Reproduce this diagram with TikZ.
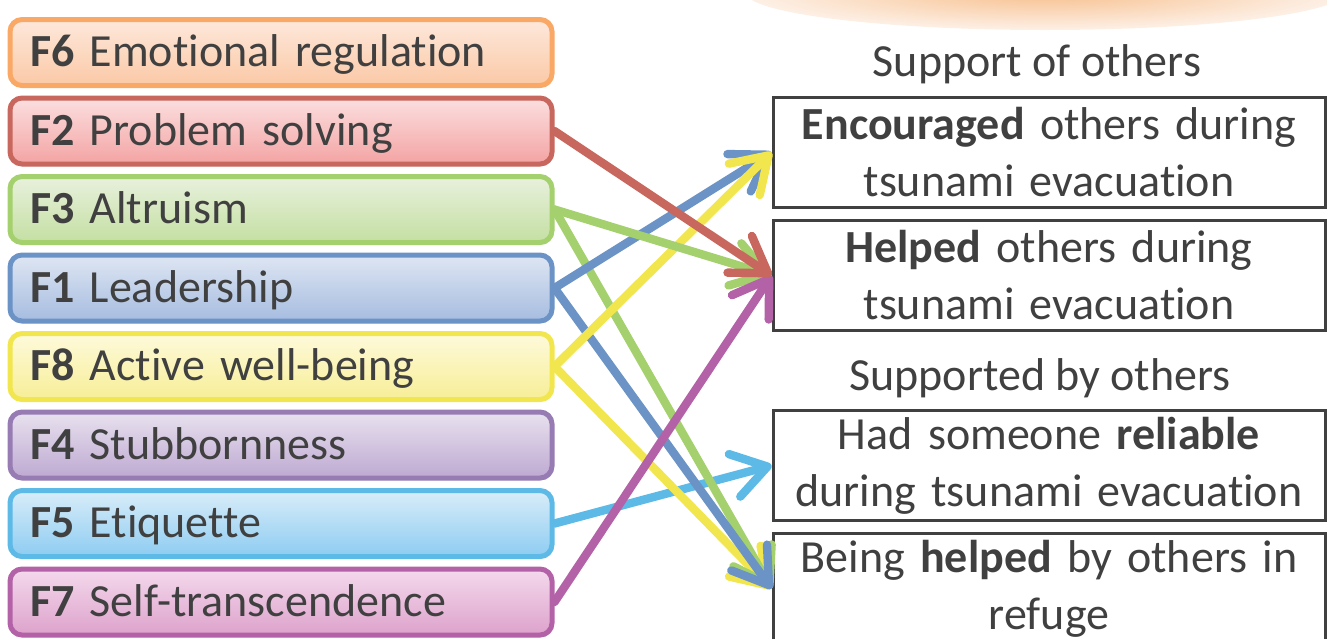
\documentclass[tikz,border=0pt]{standalone}
\usepackage{fontspec}
\setmainfont{Carlito}[Ligatures={NoCommon,NoContextual}]
\usepackage{tikz}
\usetikzlibrary{arrows.meta,positioning,shadows}
\definecolor{ink}{HTML}{404040}
\definecolor{f6line}{HTML}{F9A865}
\definecolor{f6top}{HTML}{FDE8DB}
\definecolor{f6bot}{HTML}{FBC9A6}
\definecolor{f2line}{HTML}{C8675E}
\definecolor{f2top}{HTML}{FBDFDF}
\definecolor{f2bot}{HTML}{F4A3A3}
\definecolor{f3line}{HTML}{A4D06D}
\definecolor{f3top}{HTML}{E8F1DD}
\definecolor{f3bot}{HTML}{C4DFA2}
\definecolor{f1line}{HTML}{6B93C6}
\definecolor{f1top}{HTML}{DEE6F3}
\definecolor{f1bot}{HTML}{A6BCE0}
\definecolor{f8line}{HTML}{F2E64E}
\definecolor{f8top}{HTML}{FEFADB}
\definecolor{f8bot}{HTML}{F7EE96}
\definecolor{f4line}{HTML}{977CB4}
\definecolor{f4top}{HTML}{E8E1EE}
\definecolor{f4bot}{HTML}{BEA9D2}
\definecolor{f5line}{HTML}{5DB9E6}
\definecolor{f5top}{HTML}{D9EDF9}
\definecolor{f5bot}{HTML}{8DCCF1}
\definecolor{f7line}{HTML}{B462A7}
\definecolor{f7top}{HTML}{F4D9EC}
\definecolor{f7bot}{HTML}{DDA2CC}
\definecolor{glowin}{HTML}{F7BF8C}
\definecolor{glowout}{HTML}{FDF0E6}

\begin{document}
\begin{tikzpicture}[
  x=0.5pt,y=-0.5pt,
  font=\fontsize{23}{28.5}\selectfont,text=ink,
  fac/.style={draw=#1line,top color=#1top,bottom color=#1bot,line width=2.5pt,rounded corners=6pt,
    text width=251pt,inner xsep=10pt,inner ysep=0pt,minimum height=33pt,align=left,
    text height=17pt,text depth=3pt,
    drop shadow={opacity=0.18,shadow xshift=0.6pt,shadow yshift=-1.2pt}},
  res/.style={draw=ink,line width=1.5pt,fill=white,text width=272pt,inner xsep=2pt,inner ysep=0pt,
    minimum height=55pt,align=center},
  grp/.style={inner sep=0pt},
  link/.style={#1line,line width=4.2pt,line cap=round,-{Straight Barb[length=17pt,width=22pt,round]}}]
\useasboundingbox (0,0) rectangle (1327,638);
\clip (0,0) rectangle (1327,638);
% orange heading blob, only its lower rim is in view
\shade[inner color=glowin,outer color=glowout] (1045,-8) ellipse [x radius=300,y radius=38];
% resilience factors
\node[fac=f6] (f6) at (281,52.5) {\textbf{F6} Emotional regulation};
\node[fac=f2,below=3.75pt of f6] (f2) {\textbf{F2} Problem solving};
\node[fac=f3,below=3.75pt of f2] (f3) {\textbf{F3} Altruism};
\node[fac=f1,below=3.75pt of f3] (f1) {\textbf{F1} Leadership};
\node[fac=f8,below=3.75pt of f1] (f8) {\textbf{F8} Active well-being};
\node[fac=f4,below=3.75pt of f8] (f4) {\textbf{F4} Stubbornness};
\node[fac=f5,below=3.75pt of f4] (f5) {\textbf{F5} Etiquette};
\node[fac=f7,below=3.75pt of f5] (f7) {\textbf{F7} Self-transcendence};
% behaviours
\node[res] (enc) at (1049,152.5) {\textbf{Encouraged} others during\\tsunami evacuation};
\node[res,below=5pt of enc] (help) {\textbf{Helped} others during\\tsunami evacuation};
\node[res] (rel) at (1049,465.5) {Had someone \textbf{reliable}\\during tsunami evacuation};
\node[res,below=5pt of rel] (bhelp) {Being \textbf{helped} by others in\\refuge};
\node[grp] (sof) at (1037,64) {Support of others};
\node[grp] (sby) at (1040,378) {Supported by others};
% links
\draw[link=f5] (f5.east) -- (rel.west);
\draw[link=f8] (f8.east) -- (bhelp.west);
\draw[link=f3] (f3.east) -- (bhelp.west);
\draw[link=f1] (f1.east) -- (bhelp.west);
\draw[link=f1] (f1.east) -- (enc.west);
\draw[link=f8] (f8.east) -- (enc.west);
\draw[link=f3] (f3.east) -- (help.west);
\draw[link=f7] (f7.east) -- (help.west);
\draw[link=f2] (f2.east) -- (help.west);
\end{tikzpicture}
\end{document}
